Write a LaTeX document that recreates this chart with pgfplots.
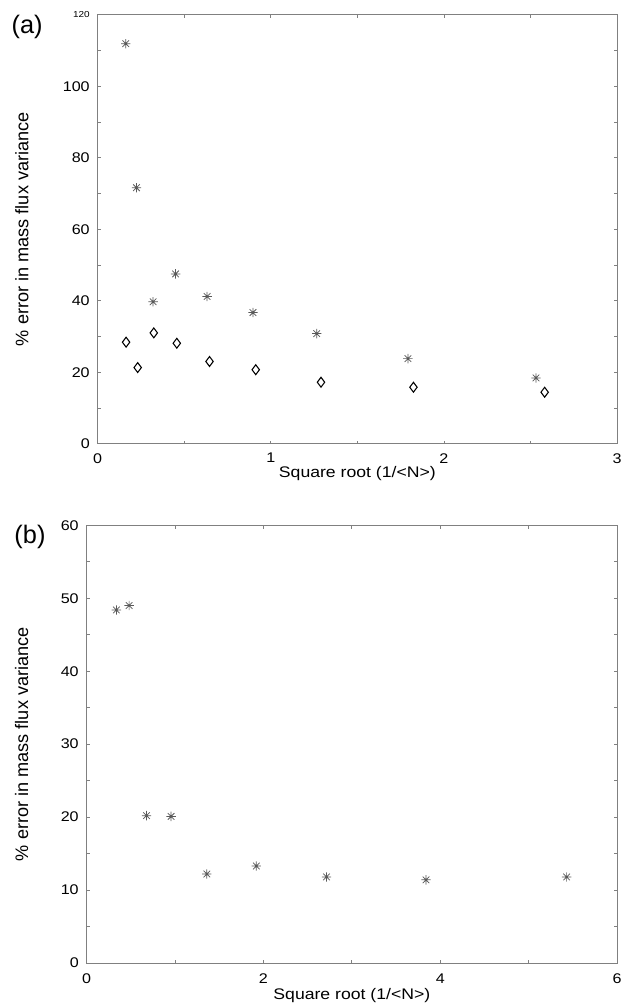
\documentclass[border=0pt]{standalone}
\usepackage{fontspec}
\setmainfont{Liberation Sans}
\newfontfamily\sfx{Liberation Sans}[FakeStretch=1.15]
\usepackage{pgfplots}
\pgfplotsset{compat=1.18}

\pgfdeclareplotmark{gpstar}{%
  \pgfpathmoveto{\pgfqpoint{-\pgfplotmarksize}{0pt}}%
  \pgfpathlineto{\pgfqpoint{\pgfplotmarksize}{0pt}}%
  \pgfpathmoveto{\pgfqpoint{0pt}{-\pgfplotmarksize}}%
  \pgfpathlineto{\pgfqpoint{0pt}{\pgfplotmarksize}}%
  \pgfpathmoveto{\pgfqpoint{-0.7071\pgfplotmarksize}{-0.7071\pgfplotmarksize}}%
  \pgfpathlineto{\pgfqpoint{0.7071\pgfplotmarksize}{0.7071\pgfplotmarksize}}%
  \pgfpathmoveto{\pgfqpoint{-0.7071\pgfplotmarksize}{0.7071\pgfplotmarksize}}%
  \pgfpathlineto{\pgfqpoint{0.7071\pgfplotmarksize}{-0.7071\pgfplotmarksize}}%
  \pgfusepathqstroke
}

\pgfplotsset{
  gpaxis/.style={
    scale only axis,
    clip=false,
    axis line style={black!50, line width=0.7pt},
    tick style={black!50, line width=0.6pt},
    major tick length=2.4pt,
    minor tick length=2.4pt,
    tick align=inside,
    xtick pos=both, ytick pos=both,
    minor x tick num=1, minor y tick num=1,
    /pgf/number format/assume math mode=true,
    every tick label/.append style={font=\sfx\fontsize{10.5}{12}\selectfont, inner sep=0pt},
    yticklabel style={anchor=east, xshift=-5.8pt},
    xticklabel style={anchor=north, yshift=-7pt},
    xlabel style={font=\sfx\fontsize{11.5}{13}\selectfont, anchor=north, inner sep=0pt},
    ylabel style={font=\fontsize{13.6}{15}\selectfont, rotate=0, anchor=center, inner sep=0pt},
    xlabel={Square root (1/{<}N{>})},
    ylabel={\% error in mass flux variance},
  },
  starpl/.style={only marks, mark=gpstar, mark size=3.5pt, black!65, line width=0.55pt},
  diapl/.style={only marks, mark=diamond, mark size=3.7pt, black, line width=0.8pt, mark options={fill=white}},
}

\begin{document}
\begin{tikzpicture}
% panel (a)
\begin{axis}[gpaxis,
  at={(73.28pt,-332.78pt)}, anchor=south west,
  width=389.48pt, height=321.75pt,
  xmin=0, xmax=3, ymin=0, ymax=120,
  xtick={0,1,2,3}, ytick={0,20,40,60,80,100,120},
  yticklabels={0,20,40,60,80,100,{\fontsize{6.5}{7}\selectfont 120}},
  xlabel style={at={(axis description cs:0.5,-0.052)}},
  ylabel style={at={(axis description cs:-0.146,0.5)}},
]
\addplot[starpl] coordinates {
(0.162,111.9) (0.224,71.6) (0.320,39.7) (0.450,47.5) (0.632,41.2)
(0.897,36.7) (1.265,30.8) (1.792,23.8) (2.532,18.4)
};
\addplot[diapl] coordinates {
(0.164,28.4) (0.231,21.3) (0.324,31.0) (0.457,28.1) (0.646,23.0)
(0.913,20.7) (1.290,17.2) (1.824,15.8) (2.582,14.4)
};
\node[font=\fontsize{19}{21}\selectfont, inner sep=0pt] at (axis description cs:-0.136,0.9725) {(a)};
\end{axis}
% panel (b)
\begin{axis}[gpaxis,
  at={(65.03pt,-722.25pt)}, anchor=south west,
  width=397.73pt, height=328.28pt,
  xmin=0, xmax=6, ymin=0, ymax=60,
  xtick={0,2,4,6}, ytick={0,10,20,30,40,50,60},
  xticklabel style={yshift=-1pt},
  xlabel style={at={(axis description cs:0.5,-0.057)}},
  ylabel style={at={(axis description cs:-0.1225,0.5)}},
]
\addplot[starpl] coordinates {
(0.336,48.4) (0.480,49.0) (0.677,20.2) (0.955,20.1) (1.359,12.2)
(1.919,13.3) (2.713,11.8) (3.839,11.4) (5.430,11.8)
};
\node[font=\fontsize{19}{21}\selectfont, inner sep=0pt] at (axis description cs:-0.107,0.973) {(b)};
\end{axis}
\pgfresetboundingbox
\path[use as bounding box] (0pt,0pt) rectangle (465.75pt,-756pt);
\end{tikzpicture}
\end{document}
